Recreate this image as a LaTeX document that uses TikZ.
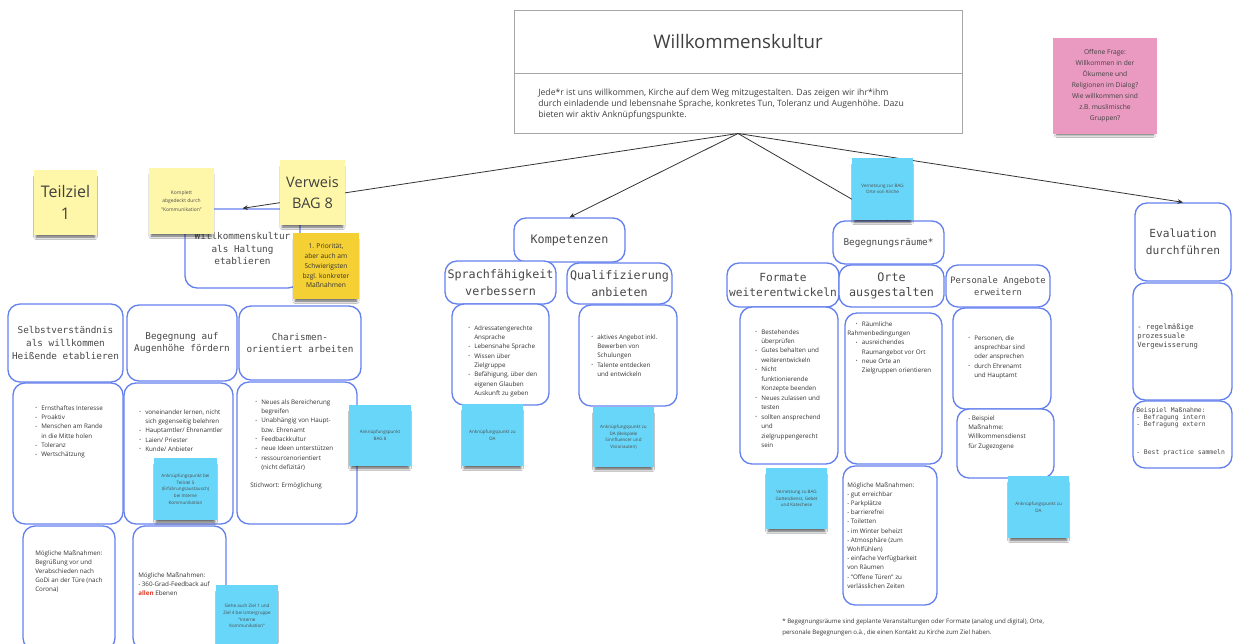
\documentclass[tikz,border=0pt]{standalone}
\usepackage{fontspec}
\setmainfont{Open Sans}
\setmonofont{DejaVu Sans Mono}
\usetikzlibrary{fit,shadows.blur,arrows.meta}
\definecolor{bblue}{RGB}{100,128,238}
\definecolor{sy}{RGB}{254,246,168}
\definecolor{sg}{RGB}{245,208,52}
\definecolor{sb}{RGB}{104,214,248}
\definecolor{sp}{RGB}{234,154,193}
\definecolor{tg}{RGB}{72,72,72}
\newcommand{\bu}{{\fontsize{3.4}{7}\selectfont\raisebox{0.3pt}{•}}}
\newcommand{\bi}{\makebox[4.5pt][l]{\bu}}
\newcommand{\bc}{\hspace*{4.5pt}}
\newcommand{\mkbox}[6]{%
  \path (#3,#4) coordinate (#2-a) (#5,#6) coordinate (#2-b);
  \node[#1, fit=(#2-a)(#2-b)] (#2) {};}
\tikzset{
  bbox/.style={draw=bblue, line width=1pt, rounded corners=9pt, inner sep=0pt, fill=white},
  tbox/.style={draw=black!35, line width=0.75pt, inner sep=0pt, fill=white},
  sticky/.style={inner sep=0pt, blur shadow={shadow xshift=0pt, shadow yshift=-3.5pt, shadow scale=0.93, shadow blur radius=2pt, shadow blur steps=6, shadow opacity=65}},
  ys/.style={sticky, fill=sy},
  gs/.style={sticky, fill=sg},
  bs/.style={sticky, fill=sb},
  ps/.style={sticky, fill=sp},
  conn/.style={draw=black!80, line width=0.6pt, -{Stealth[length=4pt,width=3.5pt]}},
  tt7/.style={font=\ttfamily\fontsize{7}{9.4}\selectfont, text=tg, align=center, inner sep=0pt},
  tt9/.style={font=\ttfamily\fontsize{8.8}{12.5}\selectfont, text=tg, align=center, inner sep=0pt},
  sm/.style={font=\fontsize{4.7}{7}\selectfont, text=black!80, align=left, anchor=north west, inner sep=0pt},
  stk/.style={font=\fontsize{3.4}{5}\selectfont, text=black!70, align=center, inner sep=0pt},
}
\begin{document}
\begin{tikzpicture}[x=0.75pt,y=-0.75pt]
\useasboundingbox[fill=white] (0,0) rectangle (1234,643);

% ---------- title box ----------
\mkbox{tbox}{title}{514}{10}{962}{133}
\draw[black!35, line width=0.75pt] (title.west |- 0,73) -- (title.east |- 0,73);
\node[font=\fontsize{14}{16}\selectfont, text=black!75, inner sep=0pt] (ttl) at (738,41) {Willkommenskultur};
\node[sm, font=\fontsize{6.5}{8.25}\selectfont, text=black!75] (desc) at (538,89) {Jede*r ist uns willkommen, Kirche auf dem Weg mitzugestalten. Das zeigen wir ihr*ihm\\durch einladende und lebensnahe Sprache, konkretes Tun, Toleranz und Augenhöhe. Dazu\\bieten wir aktiv Anknüpfungspunkte.};

% ---------- blue boxes ----------
\mkbox{bbox}{haltung}{185}{209}{300}{288}
\mkbox{bbox}{selbstT}{8}{304}{123}{382}
\mkbox{bbox}{begegT}{127}{305}{237}{381}
\mkbox{bbox}{charT}{239}{306}{361}{380}
\mkbox{bbox}{selbstB}{13}{383}{123}{524}
\mkbox{bbox}{begegB}{124}{383}{233}{524}
\mkbox{bbox}{charB}{237}{382}{357}{524}
\mkbox{bbox}{selbstM}{23}{526}{115}{650}
\mkbox{bbox}{begegM}{133}{526}{226}{650}
\mkbox{bbox}{kompet}{514}{218}{625}{262}
\mkbox{bbox}{sprachT}{445}{261}{556}{304}
\mkbox{bbox}{qualT}{567}{263}{672}{304}
\mkbox{bbox}{sprachB}{452}{304}{549}{405}
\mkbox{bbox}{qualB}{579}{305}{677}{406}
\mkbox{bbox}{begR}{833}{221}{944}{264}
\mkbox{bbox}{formT}{727}{263}{839}{307}
\mkbox{bbox}{orteT}{839}{265}{944}{307}
\mkbox{bbox}{persT}{946}{265}{1050}{307}
\mkbox{bbox}{formB}{740}{307}{838}{464}
\mkbox{bbox}{orteB}{845}{313}{942}{464}
\mkbox{bbox}{orteM}{843}{466}{937}{605}
\mkbox{bbox}{persB}{953}{308}{1051}{409}
\mkbox{bbox}{persM}{957}{409}{1054}{478}
\mkbox{bbox}{evalT}{1135}{203}{1231}{281}
\mkbox{bbox}{evalB}{1133}{283}{1232}{400}
\mkbox{bbox}{evalM}{1133}{401}{1232}{468}

% ---------- box titles ----------
\node[tt7] (haltung-t) at (haltung) {Willkommenskultur\\als Haltung\\etablieren};
\node[tt7] (selbstT-t) at (selbstT) {Selbstverständnis\\als willkommen\\Heißende etablieren};
\node[tt7] (begegT-t) at (begegT) {Begegnung auf\\Augenhöhe fördern};
\node[tt7] (charT-t) at (charT) {Charismen-\\orientiert arbeiten};
\node[tt9] (kompet-t) at (kompet) {Kompetenzen};
\node[tt9] (sprachT-t) at (sprachT) {Sprachfähigkeit\\verbessern};
\node[tt9] (qualT-t) at (qualT) {Qualifizierung\\anbieten};
\node[tt7] (begR-t) at (begR) {Begegnungsräume*};
\node[tt9, font=\ttfamily\fontsize{8.4}{11.3}\selectfont] (formT-t) at (formT) {Formate\\weiterentwickeln};
\node[tt9, font=\ttfamily\fontsize{8.8}{11.7}\selectfont] (orteT-t) at (orteT) {Orte\\ausgestalten};
\node[tt7, font=\ttfamily\fontsize{6.6}{9.3}\selectfont] (persT-t) at (persT) {Personale Angebote\\erweitern};
\node[tt9, font=\ttfamily\fontsize{8.4}{12.5}\selectfont] (evalT-t) at (evalT) {Evaluation\\durchführen};

% ---------- box contents ----------
\node[sm] (selbstB-t) at (35,405) {\bi Ernsthaftes Interesse\\\bi Proaktiv\\\bi Menschen am Rande\\\bc in die Mitte holen\\\bi Toleranz\\\bi Wertschätzung};
\node[sm] (begegB-t) at (139,409) {\bi voneinander lernen, nicht\\\bc sich gegenseitig belehren\\\bi Hauptamtler/ Ehrenamtler\\\bi Laien/ Priester\\\bi Kunde/ Anbieter};
\node[sm] (charB-t) at (255,399) {\bi Neues als Bereicherung\\\bc begreifen\\\bi Unabhängig von Haupt-\\\bc bzw. Ehrenamt\\\bi Feedbackkultur\\\bi neue Ideen unterstützen\\\bi ressourcenorientiert\\\bc (nicht defizitär)};
\node[sm] (charB-s) at (250,482) {Stichwort: Ermöglichung};
\node[sm] (sprachB-t) at (468,325) {\bi Adressatengerechte\\\bc Ansprache\\\bi Lebensnahe Sprache\\\bi Wissen über\\\bc Zielgruppe\\\bi Befähigung, über den\\\bc eigenen Glauben\\\bc Auskunft zu geben};
\node[sm] (qualB-t) at (591,334) {\bi aktives Angebot inkl.\\\bc Bewerben von\\\bc Schulungen\\\bi Talente entdecken\\\bc und entwickeln};
\node[sm, font=\fontsize{4.7}{7.1}\selectfont] (formB-t) at (755,329) {\bi Bestehendes\\\bc überprüfen\\\bi Gutes behalten und\\\bc weiterentwickeln\\\bi Nicht\\\bc funktionierende\\\bc Konzepte beenden\\\bi Neues zulassen und\\\bc testen\\\bi sollten ansprechend\\\bc und\\\bc zielgruppengerecht\\\bc sein};
\node[sm] (orteB-t) at (847,321) {\hspace*{6.5pt}\bi Räumliche\\Rahmenbedingungen\\\hspace*{6.5pt}\bi ausreichendes\\\hspace*{11pt}Raumangebot vor Ort\\\hspace*{6.5pt}\bi neue Orte an\\\hspace*{11pt}Zielgruppen orientieren};
\node[sm, font=\fontsize{4.7}{6.9}\selectfont] (orteM-t) at (847,482) {Mögliche Maßnahmen:\\- gut erreichbar\\- Parkplätze\\- barrierefrei\\- Toiletten\\- im Winter beheizt\\- Atmosphäre (zum\\Wohlfühlen)\\- einfache Verfügbarkeit\\von Räumen\\- "Offene Türen" zu\\verlässlichen Zeiten};
\node[sm] (persB-t) at (968,335) {\bi Personen, die\\\bc ansprechbar sind\\\bc oder ansprechen\\\bi durch Ehrenamt\\\bc und Hauptamt};
\node[sm] (persM-t) at (968,415) {- Beispiel\\Maßnahme:\\Willkommensdienst\\für Zugezogene};
\node[sm, font=\ttfamily\fontsize{5.4}{6.75}\selectfont, text=tg] (evalB-t) at (1137,324) {- regelmäßige\\prozessuale\\Vergewisserung};
\node[sm, font=\ttfamily\fontsize{4.8}{5.5}\selectfont, text=tg] (evalM-t) at (1136,407) {Beispiel Maßnahme:\\- Befragung intern\\- Befragung extern\\[15pt]- Best practice sammeln};
\node[sm, font=\fontsize{4.7}{6.8}\selectfont] (selbstM-t) at (35,550) {Mögliche Maßnahmen:\\Begrüßung vor und\\Verabschieden nach\\GoDi an der Türe (nach\\Corona)};
\node[sm, font=\fontsize{4.7}{6.8}\selectfont] (begegM-t) at (138,572) {Mögliche Maßnahmen:\\- 360-Grad-Feedback auf\\\textcolor[RGB]{226,60,40}{\bfseries allen} Ebenen};
\node[sm, font=\fontsize{4.6}{8}\selectfont] (foot) at (782,619) {* Begegnungsräume sind geplante Veranstaltungen oder Formate (analog und digital), Orte,\\personale Begegnungen o.ä., die einen Kontakt zu Kirche zum Ziel haben.};

% ---------- connectors ----------
\draw[conn] (title.south) -- (haltung.north);
\draw[conn] (title.south) -- (kompet.north);
\draw[conn] (title.south) -- (begR.north);
\draw[conn] (title.south) -- (evalT.north);

% ---------- stickies ----------
\mkbox{ys}{teilziel}{34}{170}{97}{235}
\node[font=\fontsize{12}{17}\selectfont, text=black!75, align=center, inner sep=0pt] (teilziel-t) at (teilziel) {Teilziel\\1};
\mkbox{ys}{komplett}{149}{168}{214}{234}
\node[stk, font=\fontsize{3.7}{6.2}\selectfont] (komplett-t) at (komplett) {Komplett\\abgedeckt durch\\"Kommunikation"};
\mkbox{ys}{verweis}{280}{160}{345}{225}
\node[font=\fontsize{10.9}{16}\selectfont, text=black!75, align=center, inner sep=0pt] (verweis-t) at (verweis) {Verweis\\BAG 8};
\mkbox{gs}{prio}{293}{233}{359}{299}
\node[stk, font=\fontsize{5}{7.3}\selectfont, text=black!80] (prio-t) at (prio) {1. Priorität,\\aber auch am\\Schwierigsten\\bzgl. konkreter\\Maßnahmen};
\mkbox{ps}{pink}{1053}{38}{1157}{134}
\node[stk, font=\fontsize{5}{8.3}\selectfont, text=black!75] (pink-t) at (pink) {Offene Frage:\\Willkommen in der\\Ökumene und\\Religionen im Dialog?\\Wie willkommen sind\\z.B. muslimische\\Gruppen?};
\mkbox{bs}{sbegeg}{154}{458}{217}{520}
\node[stk] (sbegeg-t) at (sbegeg) {Anknüpfungspunkt bei\\Teilziel 5\\(Erfahrungsaustausch)\\bei Interne\\Kommunikation};
\mkbox{bs}{schar}{349}{405}{411}{466}
\node[stk] (schar-t) at (schar) {Anknüpfungspunkt\\BAG 8};
\mkbox{bs}{ssprach}{462}{404}{523}{466}
\node[stk] (ssprach-t) at (ssprach) {Anknüpfungspunkt zu\\DA};
\mkbox{bs}{squal}{593}{407}{654}{467}
\node[stk] (squal-t) at (squal) {Anknüpfungspunkt zu\\DA (Beispiele\\Sinnfluencer und\\Visionauten)};
\mkbox{bs}{sbegR}{852}{158}{913}{220}
\node[stk] (sbegR-t) at (sbegR) {Vernetzung zur BAG\\Orte von Kirche};
\mkbox{bs}{sform}{766}{468}{827}{529}
\node[stk] (sform-t) at (sform) {Vernetzung zu BAG\\Gottesdienst, Gebet\\und Katechese};
\mkbox{bs}{spers}{1008}{476}{1069}{538}
\node[stk] (spers-t) at (spers) {Anknüpfungspunkt zu\\DA};
\mkbox{bs}{sbottom}{216}{585}{278}{647}
\node[stk] (sbottom-t) at (sbottom) {Siehe auch Ziel 1 und\\Ziel 4 bei Untergruppe\\"Interne\\Kommunikation"};
\end{tikzpicture}
\end{document}
